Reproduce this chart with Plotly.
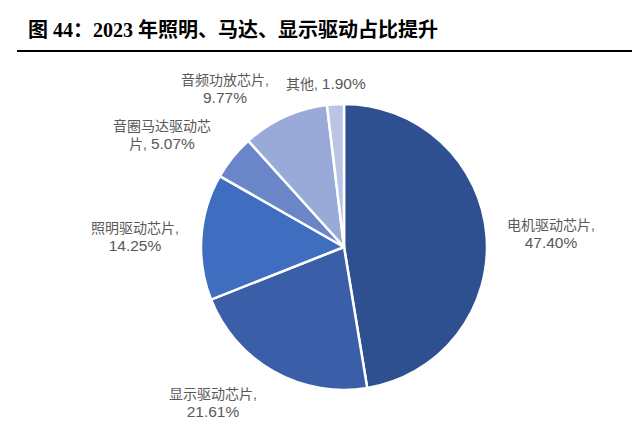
import plotly.graph_objects as go

W, H = 640, 432
OFF = 8  # the page body adds an 8px margin around the figure

# data
categories = ["电机驱动芯片", "显示驱动芯片", "照明驱动芯片", "音圈马达驱动芯片", "音频功放芯片", "其他"]
shares = [47.40, 21.61, 14.25, 5.07, 9.77, 1.90]
colors = ["#2F5090", "#3A5FA8", "#3F6DBF", "#6A86C8", "#9AAAD8", "#BAC4E4"]

title_text = "图 44：2023 年照明、马达、显示驱动占比提升"

# label placement (pixel centres) and how each label wraps
label_pos = [(551, 234), (213, 403), (135, 237), (162, 135), (225, 89), (326, 83)]
label_break = [None, None, None, 7, None, "inline"]


def px_x(v):
    return (v - OFF) / W


def px_y(v):
    return 1 - (v - OFF) / H


def label_text(name, val, brk):
    pct = f"<span style='font-size:15.5px'>{val:.2f}%</span>"
    if brk == "inline":
        return f"{name}, {pct}"
    if brk is None:
        return f"{name},<br>{pct}"
    return f"{name[:brk]}<br>{name[brk:]}, {pct}"


fig = go.Figure(go.Pie(
    labels=categories,
    values=shares,
    sort=False,
    direction="clockwise",
    rotation=0,
    marker=dict(colors=colors, line=dict(color="white", width=2.5)),
    textinfo="none",
    hoverinfo="label+percent",
    domain=dict(x=[px_x(201), px_x(487)], y=[px_y(390), px_y(104)]),
    showlegend=False,
))

annotations = []
for name, val, brk, (x, y) in zip(categories, shares, label_break, label_pos):
    annotations.append(dict(
        x=px_x(x), y=px_y(y), xref="paper", yref="paper",
        text=label_text(name, val, brk), showarrow=False,
        align="center", xanchor="center", yanchor="middle",
        font=dict(family="Liberation Sans, Noto Sans CJK SC", size=14, color="#595959"),
    ))

annotations.append(dict(
    x=px_x(26), y=px_y(30), xref="paper", yref="paper",
    text="<b>" + title_text + "</b>", showarrow=False,
    xanchor="left", yanchor="middle",
    font=dict(family="Liberation Serif, Noto Sans CJK SC", size=20, color="black"),
))

fig.update_layout(
    width=W, height=H,
    margin=dict(l=0, r=0, t=0, b=0),
    paper_bgcolor="white",
    plot_bgcolor="white",
    annotations=annotations,
    shapes=[dict(type="line", xref="paper", yref="paper",
                 x0=px_x(17), x1=1, y0=px_y(51), y1=px_y(51),
                 line=dict(color="black", width=2))],
)

fig.write_html("out.html")
